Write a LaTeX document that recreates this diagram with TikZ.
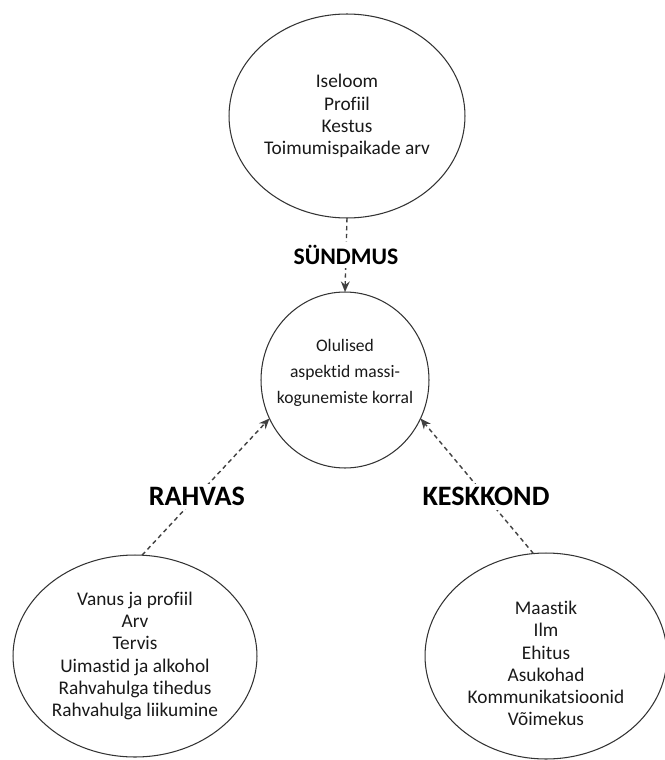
\documentclass[tikz,border=0pt]{standalone}
\usepackage{fontspec}
\setmainfont{Carlito}[Ligatures=CommonOff]
\usepackage{tikz}
\usetikzlibrary{shapes.geometric, positioning, arrows.meta}

\tikzset{
    bubble/.style={draw=black!80, line width=0.6pt, ellipse, inner sep=0pt, outer sep=0pt},
    listtext/.style={align=center, text=black!90, font=\fontsize{11}{12.6}\selectfont},
    midtext/.style={align=center, text=black!90, font=\fontsize{10}{14.6}\selectfont},
    cat/.style={fill=white, text=black, inner sep=2pt, font=\bfseries\fontsize{16}{18}\selectfont},
    link/.style={->, dash pattern=on 2.5pt off 2pt, line width=0.8pt, draw=black!75}
}

\begin{document}
\begin{tikzpicture}[x=0.02cm, y=-0.02cm, >={Stealth[length=6pt, width=5pt]}]
    % --- khung hình ---
    \useasboundingbox (0,0) rectangle (665,760);

    % Ellips phía trên: sự kiện
    \node[bubble, minimum width=4.72cm, minimum height=4.08cm,
          label={[listtext]center:{Iseloom\\Profiil\\Kestus\\Toimumispaikade arv}}]
          (event) at (347,116) {};

    % Vòng tròn giữa
    \node[bubble, minimum width=3.36cm, minimum height=3.52cm,
          label={[midtext, yshift=1.4mm]center:{Olulised\\aspektid massi-\\kogunemiste korral}}]
          (aspects) at (345,380) {};

    % Hai ellips phía dưới
    \node[bubble, minimum width=4.88cm, minimum height=4.04cm,
          label={[listtext]center:{Vanus ja profiil\\Arv\\Tervis\\Uimastid ja alkohol\\Rahvahulga tihedus\\Rahvahulga liikumine}}]
          (people) at (135,656) {};
    \node[bubble, minimum width=4.84cm, minimum height=4.12cm,
          label={[listtext, yshift=-1.5mm]center:{Maastik\\Ilm\\Ehitus\\Asukohad\\Kommunikatsioonid\\Võimekus}}]
          (surround) at (546,656) {};

    % Mũi tên nét đứt
    \draw[link] (event.south) -- node[cat, font=\bfseries\fontsize{13.5}{16}\selectfont] (eventlbl) {SÜNDMUS} (aspects.north);
    \draw[link] (people.86) -- node[cat, pos=0.43] (peoplelbl) {RAHVAS} (aspects.207);
    \draw[link] (surround.97) -- node[cat, pos=0.42] (surroundlbl) {KESKKOND} (aspects.333);

\end{tikzpicture}
\end{document}
